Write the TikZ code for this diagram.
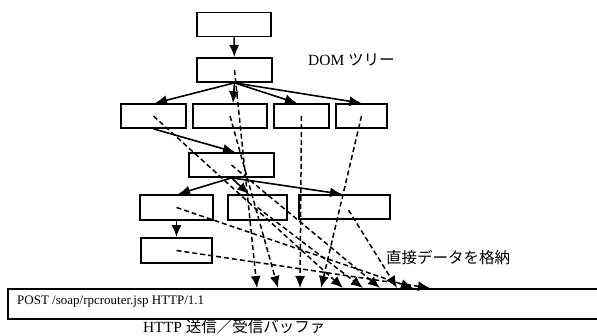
\documentclass[tikz,border=0pt]{standalone}
\usepackage{fontspec}
\setmainfont{Liberation Serif}
\newfontfamily\jpfont{Noto Sans CJK JP}
\usetikzlibrary{arrows.meta}

\tikzset{
  box/.style={draw, line width=1.7pt, minimum height=24pt, inner sep=0pt},
  tree/.style={line width=1.6pt, -{Latex[length=12pt,width=10pt]}},
  link/.style={line width=1.5pt, dash pattern=on 5pt off 3pt, -{Latex[length=12pt,width=10pt]}},
  lbl/.style={anchor=west, inner sep=0pt, font=\fontsize{15.5}{18}\selectfont},
}

\begin{document}
\begin{tikzpicture}[x=1pt,y=-1pt]
\useasboundingbox (0,0) rectangle (597,336);
% DOM tree
\node[box, minimum width=74pt] (root) at (234,24.5) {};
\node[box, minimum width=75pt] (dom) at (234.5,70) {};
\node[box, minimum width=65pt] (na) at (153.5,116) {};
\node[box, minimum width=74pt] (nb) at (230,116) {};
\node[box, minimum width=55pt] (nc) at (301.5,116) {};
\node[box, minimum width=51pt] (nd) at (361.5,116) {};
\node[box, minimum width=85pt] (ne) at (231.5,165) {};
\node[box, minimum width=73pt, minimum height=25pt] (nf) at (176.5,207.5) {};
\node[box, minimum width=59pt, minimum height=25pt] (ng) at (257.5,207.5) {};
\node[box, minimum width=91pt] (nh) at (344.5,207) {};
\node[box, minimum width=71pt, minimum height=25pt] (ni) at (176.5,250.5) {};
\node[lbl] (domlbl) at (308,60) {DOM {\jpfont ツリー}};
% buffer
\node[box, minimum width=603pt, minimum height=30pt, anchor=north west] (buf) at (7,288) {};
\node[anchor=west, inner sep=0pt, font=\fontsize{13}{15}\selectfont] (req) at (17,302) {POST /soap/rpcrouter.jsp HTTP/1.1};
\node[lbl, font=\fontsize{15.5}{18}\selectfont] (buflbl) at (143,326.5) {HTTP {\jpfont 送信／受信バッファ}};
\node[lbl] (storelbl) at (386,258) {\jpfont 直接データを格納};
% tree links
\draw[tree] (root) -- (dom);
\draw[tree] (dom.south) -- ([xshift=1.5pt]na.north);
\draw[tree] (dom.south) -- ([xshift=3pt]nb.north);
\draw[tree] (dom.south) -- ([xshift=-4.5pt]nc.north);
\draw[tree] (dom.south) -- (nd.north);
\draw[tree] (na.south) -- ([xshift=3.5pt]ne.north);
\draw[tree] (ne.south) -- ([xshift=1.5pt]nf.north);
\draw[tree] (ne.south) -- ([xshift=-8.5pt]ng.north);
\draw[tree] (ne.south) -- ([xshift=-2.5pt]nh.north);
\draw[tree] (nf) -- (ni);
% direct stores into buffer
\coordinate (t1) at (257,288);
\coordinate (t2) at (278,288);
\coordinate (t3) at (300,288);
\coordinate (t4) at (321,288);
\coordinate (t5) at (343,288);
\coordinate (t6) at (363,288);
\coordinate (t7) at (380,288);
\coordinate (t8) at (397,288);
\coordinate (t9) at (413,288);
\coordinate (t10) at (430,288);
\draw[link] (dom.center) -- (t1);
\draw[link] (nb.center) -- (t2);
\draw[link] (nc.center) -- (t3);
\draw[link] (nd.center) -- (t4);
\draw[link] (na.center) -- (t5);
\draw[link] (ng.center) -- (t6);
\draw[link] (ne.center) -- (t7);
\draw[link] ([xshift=4pt,yshift=-3pt]nh.center) -- (t8);
\draw[link] (nf.center) -- (t9);
\draw[link] (ni.center) -- (t10);
\end{tikzpicture}
\end{document}
